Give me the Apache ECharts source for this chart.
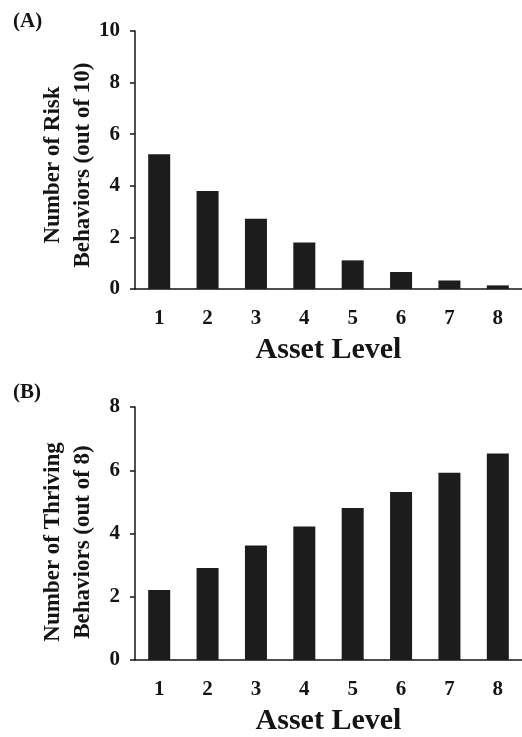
<!DOCTYPE html>
<html lang="en">
  <head>
    <meta charset="UTF-8" />
    <title>Asset Level</title>
    <script src="https://cdn.jsdelivr.net/npm/echarts@6/dist/echarts.min.js"></script>
    <style>
      html, body { margin: 0; padding: 0; background: #fff; }
    </style>
  </head>

  <body>
    <div id="main" style="width: 522px; height: 737px"></div>

    <script type="text/javascript">
      // data
      var assetLevels = ["1", "2", "3", "4", "5", "6", "7", "8"];
      var riskBehaviors = [5.22, 3.8, 2.72, 1.8, 1.11, 0.66, 0.33, 0.14];
      var thrivingBehaviors = [2.21, 2.91, 3.62, 4.22, 4.81, 5.31, 5.92, 6.53];

      var myChart = echarts.init(document.getElementById("main"));

      var font = "'Liberation Serif', 'Times New Roman', serif";
      var ink = "#141414";

      function xAxisFor(gridIndex) {
        return {
          type: "category",
          gridIndex: gridIndex,
          data: assetLevels,
          name: "Asset Level",
          nameLocation: "middle",
          nameGap: 46,
          nameTextStyle: { fontFamily: font, fontWeight: "bold", fontSize: 30, color: ink },
          axisLine: { lineStyle: { color: ink, width: 1.5 } },
          axisTick: { length: 6, lineStyle: { color: ink, width: 1.5 } },
          axisLabel: { margin: 19, fontFamily: font, fontWeight: "bold", fontSize: 21, color: ink },
        };
      }

      function yAxisFor(gridIndex, max, name, shift) {
        return {
          type: "value",
          gridIndex: gridIndex,
          min: 0,
          max: max,
          interval: 2,
          name: name,
          nameLocation: "middle",
          nameGap: 37,
          nameMoveOverlap: false,
          nameTextStyle: {
            fontFamily: font,
            fontWeight: "bold",
            fontSize: 23,
            lineHeight: 30,
            color: ink,
            padding: [0, shift, 0, 0],
          },
          splitLine: { show: false },
          axisLine: { show: true, lineStyle: { color: ink, width: 1.5 } },
          axisTick: { show: true, length: 5, lineStyle: { color: ink, width: 1.5 } },
          axisLabel: { margin: 15, fontFamily: font, fontWeight: "bold", fontSize: 21, color: ink },
        };
      }

      var option = {
        animation: false,
        title: [
          { text: "(A)", left: 8, top: 6, textStyle: { fontFamily: font, fontWeight: "bold", fontSize: 21, color: ink } },
          { text: "(B)", left: 8, top: 377, textStyle: { fontFamily: font, fontWeight: "bold", fontSize: 21, color: ink } },
        ],
        grid: [
          { left: 135, top: 31, width: 395, height: 258 },
          { left: 135, top: 407, width: 395, height: 258 },
        ],
        xAxis: [xAxisFor(0), xAxisFor(1)],
        yAxis: [
          yAxisFor(0, 10, "Number of Risk\nBehaviors (out of 10)", 10),
          yAxisFor(1, 8, "Number of Thriving\nBehaviors (out of 8)", 17),
        ],
        series: [
          {
            type: "bar",
            xAxisIndex: 0,
            yAxisIndex: 0,
            data: riskBehaviors,
            barWidth: 22,
            itemStyle: { color: "#1c1c1c" },
          },
          {
            type: "bar",
            xAxisIndex: 1,
            yAxisIndex: 1,
            data: thrivingBehaviors,
            barWidth: 22,
            itemStyle: { color: "#1c1c1c" },
          },
        ],
      };

      myChart.setOption(option);
    </script>
  </body>
</html>
